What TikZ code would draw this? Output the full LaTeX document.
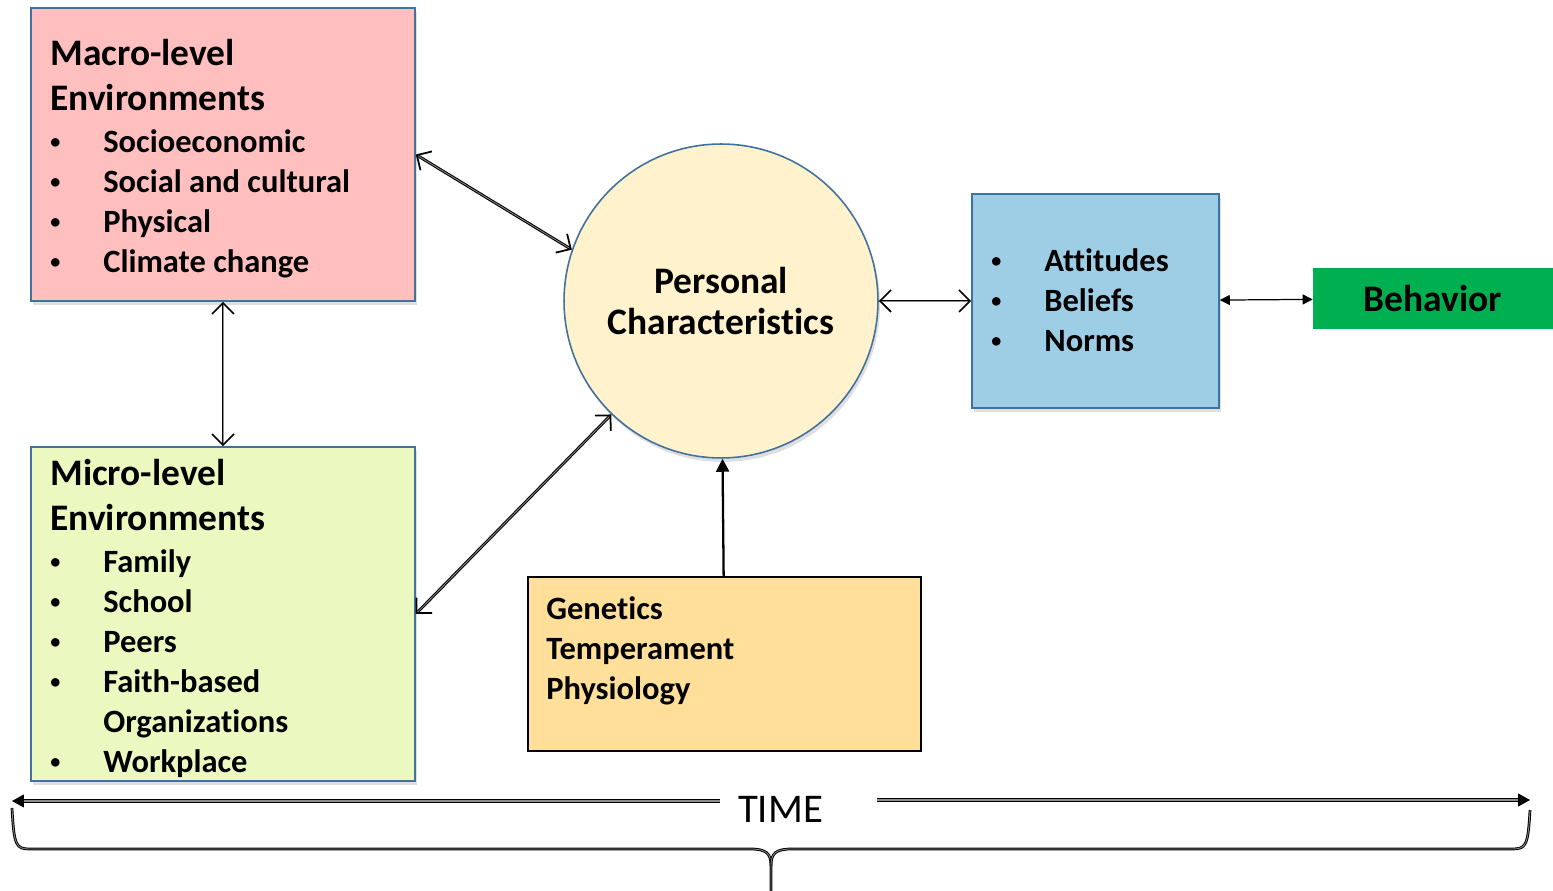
\documentclass[tikz,border=0pt]{standalone}
\usepackage{fontspec}
\setmainfont[Ligatures=NoCommon]{Carlito}
\usetikzlibrary{arrows.meta,shadows}

\definecolor{macrofill}{RGB}{255,191,191}
\definecolor{microfill}{RGB}{235,249,193}
\definecolor{personfill}{RGB}{255,242,204}
\definecolor{attfill}{RGB}{158,206,230}
\definecolor{behavfill}{RGB}{0,176,80}
\definecolor{genfill}{RGB}{255,223,154}
\definecolor{boxline}{RGB}{65,113,156}

\newcommand{\headfont}{\fontsize{21.3}{25.6}\selectfont\bfseries}
\newcommand{\listfont}{\fontsize{18.5}{22.76}\selectfont\bfseries}
\newcommand{\dotmark}{\raisebox{0.12em}{\scalebox{0.62}{\textbullet}}}
\newcommand{\itm}{\makebox[1.06cm][l]{\dotmark}}

\tikzset{
  envbox/.style={rectangle, draw=boxline, line width=0.9pt, inner sep=0pt,
    drop shadow={shadow xshift=0.4mm, shadow yshift=-0.8mm, opacity=0.25}},
  listtext/.style={anchor=north west, align=left, inner sep=0pt, font=\listfont},
  dbl/.style={double=black!45, double distance=0.45pt, line width=0.6pt,
    {Straight Barb[length=2.2mm,width=4.4mm,line width=1pt]}-{Straight Barb[length=2.2mm,width=4.4mm,line width=1pt]}},
  timeline/.style={double=black!45, double distance=0.7pt, line width=0.6pt,
    -{Triangle[length=2.4mm,width=2.6mm]}},
  bracepath/.style={double=black!45, double distance=0.45pt, line width=0.55pt}
}

\begin{document}
\begin{tikzpicture}[x=0.02cm,y=-0.02cm]
  \useasboundingbox (0,0) rectangle (1553,891);

  \node[envbox,fill=macrofill,minimum width=7.68cm,minimum height=5.86cm] (macro) at (223,154.5) {};
  \node[envbox,fill=microfill,minimum width=7.68cm,minimum height=6.68cm] (micro) at (223,614) {};
  \node[envbox,circle,fill=personfill,minimum size=6.28cm,align=center,font=\headfont] (pc) at (721,301) {Personal\\[-2pt]Characteristics};
  \node[envbox,fill=attfill,minimum width=4.94cm,minimum height=4.28cm] (att) at (1095.5,301) {};
  \node[rectangle,fill=behavfill,minimum width=4.8cm,minimum height=1.22cm,font=\headfont] (behav) at (1433,298.5) {Behavior};
  \node[rectangle,draw=black,line width=0.9pt,fill=genfill,minimum width=7.86cm,minimum height=3.48cm] (gen) at (724.5,664) {};

  \node[listtext] (macrotext) at (50,39) {{\headfont Macro-level}\\[2.9pt]{\headfont Environments}\\[1pt]\itm Socioeconomic\\\itm Social and cultural\\\itm Physical\\\itm Climate change};
  \node[listtext] (microtext) at (50,459) {{\headfont Micro-level}\\[2.9pt]{\headfont Environments}\\[1pt]\itm Family\\\itm School\\\itm Peers\\\itm Faith-based\\\makebox[1.06cm]{}Organizations\\\itm Workplace};
  \node[listtext] (atttext) at (991,248) {\makebox[1.06cm][l]{\dotmark}Attitudes\\\makebox[1.06cm][l]{\dotmark}Beliefs\\\makebox[1.06cm][l]{\dotmark}Norms};
  \node[listtext] (gentext) at (546,596) {Genetics\\Temperament\\Physiology};

  \node[font=\fontsize{23.2}{28}\selectfont,inner sep=0pt] (time) at (780.5,809) {TIME};
  \coordinate (tl) at (12,801);
  \coordinate (tr) at (1530,800);

  \draw[dbl] (macro) -- (micro);
  \draw[dbl] (macro.east) -- (pc.161);
  \draw[dbl] (micro.east) -- (pc.226);
  \draw[dbl] (pc) -- (att);
  \draw[{Triangle[length=2mm,width=2mm]}-{Triangle[length=2mm,width=2mm]},line width=0.7pt] (att) -- (behav);
  \draw[-{Triangle[length=2.6mm,width=2.6mm]},line width=1.3pt] (gen) -- (pc);

  \draw[timeline] (time.west |- tl) ++(-18,0) -- (tl);
  \draw[timeline] (time.east |- tr) ++(54,0) -- (tr);

  \draw[bracepath] (12,808) .. controls (14,846) and (16,849) .. (30,849) -- (750,849)
    .. controls (766,849) and (771,853) .. (771,866) -- (771,891);
  \draw[bracepath] (1530,810) .. controls (1528,846) and (1526,849) .. (1512,849) -- (792,849)
    .. controls (776,849) and (771,853) .. (771,866);
\end{tikzpicture}
\end{document}
